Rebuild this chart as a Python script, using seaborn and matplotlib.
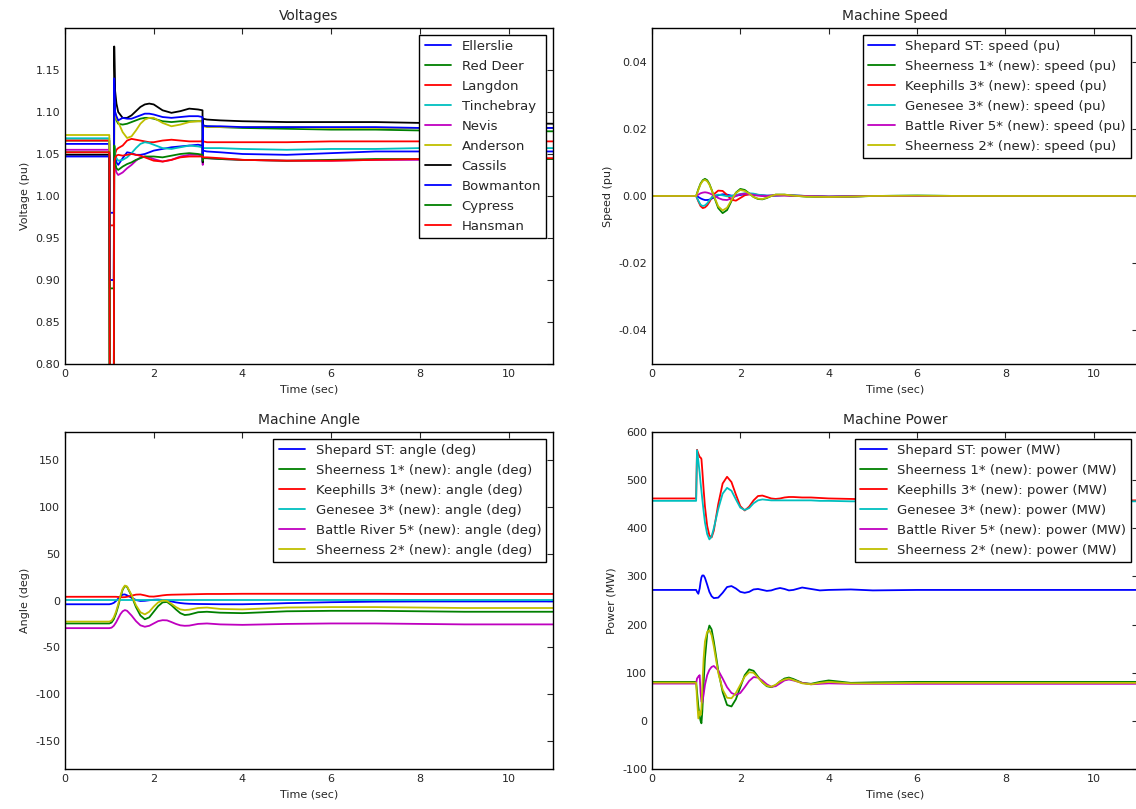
import matplotlib
matplotlib.use("Agg")
import matplotlib.pyplot as plt
import seaborn as sns

# ---------------- data ----------------
# bus voltages (pu)
t_volt = [0.0, 1.0, 1.01, 1.1, 1.11, 1.13, 1.16, 1.2, 1.3, 1.4, 1.5, 1.6, 1.7, 1.8, 1.9, 2.0,
          2.2, 2.4, 2.6, 2.8, 3.0, 3.1, 3.105, 3.11, 3.2, 3.5, 4.0, 5.0, 6.0, 7.0, 8.0, 9.0, 10.0, 11.0]
bus_names = ["Ellerslie", "Red Deer", "Langdon", "Tinchebray", "Nevis",
             "Anderson", "Cassils", "Bowmanton", "Cypress", "Hansman"]
v_ellerslie = [1.062, 1.062, 0.98, 0.98, 1.06, 1.05, 1.04, 1.037, 1.045, 1.052, 1.051, 1.049, 1.049, 1.050,
               1.052, 1.054, 1.056, 1.058, 1.059, 1.060, 1.061, 1.060, 1.040, 1.054, 1.053, 1.052, 1.050,
               1.049, 1.051, 1.053, 1.053, 1.053, 1.053, 1.053]
v_red_deer = [1.066, 1.066, 0.89, 0.89, 1.11, 1.10, 1.09, 1.086, 1.085, 1.086, 1.088, 1.090, 1.092, 1.093,
              1.093, 1.092, 1.089, 1.088, 1.089, 1.089, 1.089, 1.089, 1.05, 1.084, 1.083, 1.082, 1.081,
              1.080, 1.079, 1.079, 1.078, 1.078, 1.077, 1.077]
v_langdon = [1.066, 1.066, 0.965, 0.965, 1.04, 1.05, 1.055, 1.057, 1.060, 1.066, 1.068, 1.067, 1.066, 1.065,
             1.064, 1.064, 1.066, 1.067, 1.066, 1.065, 1.065, 1.065, 1.068, 1.065, 1.064, 1.064, 1.064,
             1.064, 1.065, 1.065, 1.065, 1.065, 1.065, 1.065]
v_tinchebray = [1.0687, 1.0687, 0.75, 0.75, 1.06, 1.05, 1.045, 1.042, 1.043, 1.046, 1.051, 1.057, 1.062, 1.064,
                1.063, 1.061, 1.057, 1.056, 1.058, 1.060, 1.059, 1.058, 1.058, 1.057, 1.057, 1.057, 1.056,
                1.055, 1.056, 1.056, 1.057, 1.057, 1.057, 1.057]
v_nevis = [1.055, 1.055, 0.90, 0.90, 1.05, 1.035, 1.028, 1.025, 1.028, 1.033, 1.037, 1.042, 1.046, 1.047,
           1.046, 1.044, 1.041, 1.043, 1.047, 1.049, 1.049, 1.048, 1.037, 1.045, 1.045, 1.044, 1.043,
           1.042, 1.042, 1.043, 1.043, 1.043, 1.044, 1.044]
v_anderson = [1.0726, 1.0726, 0.70, 0.70, 1.10, 1.095, 1.092, 1.088, 1.076, 1.069, 1.071, 1.078, 1.086, 1.091,
              1.093, 1.093, 1.087, 1.083, 1.085, 1.088, 1.089, 1.089, 1.089, 1.083, 1.082, 1.082, 1.082,
              1.082, 1.081, 1.081, 1.081, 1.081, 1.081, 1.081]
v_cassils = [1.049, 1.049, 0.70, 0.70, 1.178, 1.125, 1.11, 1.10, 1.093, 1.093, 1.096, 1.101, 1.106, 1.109,
             1.110, 1.109, 1.102, 1.099, 1.101, 1.104, 1.103, 1.102, 1.04, 1.092, 1.091, 1.090, 1.089,
             1.088, 1.088, 1.088, 1.087, 1.087, 1.087, 1.086]
v_bowmanton = [1.047, 1.047, 0.90, 0.90, 1.14, 1.10, 1.095, 1.090, 1.093, 1.092, 1.092, 1.094, 1.096, 1.098,
               1.098, 1.097, 1.094, 1.093, 1.094, 1.095, 1.095, 1.094, 1.045, 1.084, 1.083, 1.083, 1.082,
               1.082, 1.082, 1.082, 1.081, 1.081, 1.081, 1.081]
v_cypress = [1.052, 1.052, 0.60, 0.60, 1.06, 1.04, 1.033, 1.031, 1.035, 1.038, 1.040, 1.043, 1.045, 1.047,
             1.047, 1.047, 1.046, 1.048, 1.050, 1.051, 1.050, 1.049, 1.042, 1.045, 1.045, 1.044, 1.043,
             1.042, 1.043, 1.044, 1.044, 1.044, 1.044, 1.044]
v_hansman = [1.052, 1.052, 0.75, 0.75, 1.04, 1.045, 1.048, 1.049, 1.048, 1.049, 1.050, 1.049, 1.048, 1.046,
             1.044, 1.042, 1.041, 1.043, 1.046, 1.047, 1.047, 1.047, 1.047, 1.046, 1.046, 1.045, 1.043,
             1.042, 1.042, 1.043, 1.044, 1.044, 1.045, 1.045]

# machine quantities
mach_names = ["Shepard ST", "Sheerness 1* (new)", "Keephills 3* (new)",
              "Genesee 3* (new)", "Battle River 5* (new)", "Sheerness 2* (new)"]

t_mach = [0.0, 1.0, 1.05, 1.1, 1.15, 1.2, 1.25, 1.3, 1.35, 1.4, 1.5, 1.6, 1.7, 1.8, 1.9, 2.0, 2.1, 2.2,
          2.3, 2.4, 2.5, 2.6, 2.7, 2.8, 3.0, 3.2, 3.5, 4.0, 4.5, 5.0, 6.0, 7.0, 8.0, 9.0, 10.0, 11.0]
spd_shepard = [0, 0, -0.0003, -0.0007, -0.0010, -0.0012, -0.0012, -0.0011, -0.0008, -0.0005, 0.0002, 0.0005,
               0.0004, 0.0001, 0.0001, 0.0003, 0.0005, 0.0005, 0.0004, 0.0003, 0.0002, 0.0001, 0.0001,
               0.0001, 0.0002, 0.0001, 0.0, -0.0002, -0.0001, 0, 0, 0, 0, 0, 0, 0]
spd_sheerness1 = [0, 0, 0.0020, 0.0037, 0.0047, 0.0051, 0.0047, 0.0036, 0.0019, 0.0000, -0.0036, -0.0051,
                  -0.0042, -0.0015, 0.0010, 0.0021, 0.0018, 0.0008, -0.0003, -0.0009, -0.0010, -0.0006,
                  0.0000, 0.0004, 0.0004, 0.0001, -0.0002, -0.0003, -0.0002, 0, 0.0001, 0, 0, 0, 0, 0]
spd_keephills = [0, 0, -0.0016, -0.0030, -0.0036, -0.0034, -0.0028, -0.0018, -0.0006, 0.0005, 0.0016, 0.0015,
                 0.0003, -0.0011, -0.0014, -0.0006, 0.0002, 0.0005, 0.0005, 0.0003, 0.0001, 0.0000, 0.0001,
                 0.0002, 0.0002, 0.0001, 0.0, -0.0002, -0.0001, 0, 0, 0, 0, 0, 0, 0]
spd_genesee = [0, 0, -0.0014, -0.0026, -0.0030, -0.0028, -0.0022, -0.0013, -0.0005, 0.0001, 0.0004, 0.0002,
               -0.0001, 0.0000, 0.0003, 0.0006, 0.0008, 0.0008, 0.0007, 0.0004, 0.0002, 0.0001, 0.0001,
               0.0002, 0.0003, 0.0002, 0.0, -0.0002, -0.0001, 0, 0.0001, 0, 0, 0, 0, 0]
spd_battle = [0, 0, 0.0004, 0.0008, 0.0010, 0.0011, 0.0010, 0.0008, 0.0005, 0.0002, -0.0006, -0.0011,
              -0.0012, -0.0007, 0.0000, 0.0005, 0.0007, 0.0006, 0.0003, 0.0001, 0.0000, 0.0000, 0.0001,
              0.0002, 0.0002, 0.0001, 0.0, -0.0002, -0.0001, 0, 0, 0, 0, 0, 0, 0]
spd_sheerness2 = [0, 0, 0.0018, 0.0035, 0.0045, 0.0048, 0.0044, 0.0034, 0.0018, 0.0001, -0.0031, -0.0043,
                  -0.0035, -0.0012, 0.0009, 0.0018, 0.0015, 0.0007, -0.0003, -0.0008, -0.0009, -0.0005,
                  0.0000, 0.0004, 0.0004, 0.0001, -0.0002, -0.0003, -0.0002, 0, 0.0001, 0, 0, 0, 0, 0]

ang_shepard = [-4, -4, -3.5, -2.5, -0.5, 2, 4.5, 6.3, 6.5, 5.5, 3, 0.5, -0.5, -0.3, 0.3, 0.8, 1, 0.6,
               -0.2, -1, -2, -2.7, -3.2, -3.5, -3.7, -3.8, -4, -4, -3.5, -2.8, -1.8, -1.2, -1, -1, -1, -1]
ang_sheerness1 = [-24.5, -24.5, -23.5, -20, -14, -6, 3.5, 11.5, 15.5, 14.5, 5, -7, -16, -20, -18, -12, -6, -2,
                  -1.5, -5, -9.5, -13.5, -15.5, -15, -12.5, -12, -13, -13.5, -12.5, -11.5, -11, -11, -11.5,
                  -12, -12, -12]
ang_keephills = [4, 4, 4, 4, 4, 3.8, 3.6, 3.5, 3.6, 4, 5.2, 6.3, 6.5, 5.5, 4.3, 4.2, 4.8, 5.5, 6, 6.2, 6.3,
                 6.4, 6.5, 6.6, 6.8, 7, 7, 7.2, 7.2, 7.2, 7.2, 7.2, 7, 7, 7, 7]
ang_genesee = [0.5, 0.5, 0.5, 0.5, 0.5, 0.5, 0.5, 0.5, 0.5, 0.5, 0.5, 0.5, 0.5, 0.5, 0.5, 0.5, 0.5, 0.5,
               0.5, 0.5, 0.5, 0.5, 0.5, 0.5, 0.5, 0.5, 0.5, 0.5, 0.5, 0.5, 0.5, 0.5, 0.5, 0.5, 0.5, 0.5]
ang_battle = [-29.5, -29.5, -29, -27, -23.5, -19, -14.5, -11.5, -10.2, -11, -16, -22, -26.5, -28, -27, -24.5,
              -22, -21, -21.2, -23, -25, -26.5, -27, -26.8, -25, -24.5, -25.5, -26, -25.5, -25, -24.5,
              -24.5, -25, -25.5, -25.5, -25.5]
ang_sheerness2 = [-22.5, -22.5, -21.5, -18, -12, -4, 5, 12.5, 16, 15, 6, -5, -12.5, -14.8, -12, -6.5, -2, 0,
                  -0.5, -3.5, -7, -9.5, -10.2, -9.8, -8, -7.5, -9, -9.5, -8.5, -7.5, -7, -7, -7.5, -8, -8, -8]

t_pow = [0.0, 1.0, 1.02, 1.05, 1.08, 1.1, 1.12, 1.14, 1.17, 1.2, 1.25, 1.3, 1.35, 1.4, 1.5, 1.6, 1.7, 1.8,
         1.9, 2.0, 2.1, 2.2, 2.3, 2.4, 2.5, 2.6, 2.7, 2.8, 2.9, 3.0, 3.1, 3.2, 3.4, 3.6, 3.8, 4.0, 4.5, 5.0,
         6.0, 7.0, 8.0, 9.0, 10.0, 11.0]
pw_shepard = [272, 272, 268, 264, 275, 288, 298, 302, 302, 297, 283, 268, 259, 255, 256, 266, 278, 280, 275,
              268, 266, 268, 273, 274, 272, 270, 271, 274, 276, 274, 271, 272, 277, 274, 271, 272, 273, 271,
              272, 272, 272, 272, 272, 272]
pw_sheerness1 = [81, 81, 60, 30, 10, 0, -5, 20, 80, 130, 180, 198, 190, 165, 105, 60, 33, 30, 45, 70, 95, 107,
                 104, 92, 80, 72, 70, 74, 82, 88, 90, 87, 79, 77, 81, 84, 79, 80, 81, 81, 81, 81, 81, 81]
pw_keephills = [462, 462, 563, 555, 548, 547, 544, 520, 480, 445, 405, 385, 381, 395, 450, 493, 507, 496, 470,
                446, 437, 445, 458, 467, 468, 465, 462, 461, 462, 464, 465, 465, 464, 464, 463, 462, 461, 460,
                459, 458, 458, 458, 458, 458]
pw_genesee = [457, 457, 562, 540, 515, 495, 478, 460, 435, 412, 388, 377, 383, 400, 440, 472, 484, 478, 460,
              443, 438, 442, 452, 458, 460, 459, 458, 458, 458, 458, 458, 458, 458, 458, 457, 457, 456, 456,
              456, 456, 456, 456, 456, 456]
pw_battle = [77.5, 77.5, 88, 92, 95, 60, 40, 38, 55, 75, 95, 106, 112, 114, 105, 88, 70, 58, 54, 58, 70, 83,
             91, 90, 84, 76, 71, 72, 78, 84, 86, 84, 79, 76, 77, 78, 77, 77, 77, 77, 77, 77, 77, 77]
pw_sheerness2 = [79.5, 79.5, 45, 5, 20, 12, 25, 70, 130, 165, 185, 188, 178, 155, 100, 65, 48, 47, 58, 75, 92,
                 101, 100, 90, 80, 73, 71, 75, 82, 86, 88, 85, 78, 76, 79, 81, 78, 78, 79, 79, 79, 79, 79, 79]

# classic matplotlib "bgrcmyk" colours
BLUE, GREEN, RED, CYAN = "#0000ff", "#008000", "#ff0000", "#00bfbf"
MAGENTA, YELLOW, BLACK = "#bf00bf", "#bfbf00", "#000000"
bus_colors = [BLUE, GREEN, RED, CYAN, MAGENTA, YELLOW, BLACK, BLUE, GREEN, RED]
mach_colors = [BLUE, GREEN, RED, CYAN, MAGENTA, YELLOW]


def draw_panel(ax, t, series, names, colors, suffix, title, ylabel, ylim, yticks, fmt=None):
    for vals, name, col in zip(series, names, colors):
        sns.lineplot(x=t, y=vals, color=col, linewidth=1.3, label=name + suffix, ax=ax)
    ax.set_xlim(0, 11)
    ax.set_ylim(*ylim)
    ax.set_xticks([0, 2, 4, 6, 8, 10])
    ax.set_yticks(yticks)
    if fmt:
        ax.yaxis.set_major_formatter(plt.FormatStrFormatter(fmt))
    ax.set_title(title, fontsize=10)
    ax.set_xlabel("Time (sec)", fontsize=8)
    ax.set_ylabel(ylabel, fontsize=8)
    ax.tick_params(labelsize=8, direction="in", top=True, right=True, length=4, width=0.8)
    for sp in ax.spines.values():
        sp.set_color("black")
        sp.set_linewidth(1.0)
    ax.legend(loc="upper right", fontsize=9.5, frameon=True, fancybox=False,
              edgecolor="black", framealpha=1, borderaxespad=0.5, handlelength=2.0,
              labelspacing=0.53)


sns.set_theme(style="white", rc={"axes.edgecolor": "black"})
plt.rcParams["font.family"] = ["DejaVu Sans"]
plt.rcParams["axes.unicode_minus"] = False

fig = plt.figure(figsize=(11.36, 8.09), dpi=100)
ax_v = fig.add_axes([0.0572, 0.5501, 0.4296, 0.4153])
ax_s = fig.add_axes([0.5739, 0.5501, 0.4278, 0.4153])
ax_a = fig.add_axes([0.0572, 0.0494, 0.4296, 0.4166])
ax_p = fig.add_axes([0.5739, 0.0494, 0.4278, 0.4166])

draw_panel(ax_v, t_volt,
           [v_ellerslie, v_red_deer, v_langdon, v_tinchebray, v_nevis,
            v_anderson, v_cassils, v_bowmanton, v_cypress, v_hansman],
           bus_names, bus_colors, "", "Voltages", "Voltage (pu)",
           (0.8, 1.2), [0.80, 0.85, 0.90, 0.95, 1.00, 1.05, 1.10, 1.15], "%.2f")
draw_panel(ax_s, t_mach,
           [spd_shepard, spd_sheerness1, spd_keephills, spd_genesee, spd_battle, spd_sheerness2],
           mach_names, mach_colors, ": speed (pu)", "Machine Speed", "Speed (pu)",
           (-0.05, 0.05), [-0.04, -0.02, 0.0, 0.02, 0.04], "%.2f")
draw_panel(ax_a, t_mach,
           [ang_shepard, ang_sheerness1, ang_keephills, ang_genesee, ang_battle, ang_sheerness2],
           mach_names, mach_colors, ": angle (deg)", "Machine Angle", "Angle (deg)",
           (-180, 180), [-150, -100, -50, 0, 50, 100, 150])
draw_panel(ax_p, t_pow,
           [pw_shepard, pw_sheerness1, pw_keephills, pw_genesee, pw_battle, pw_sheerness2],
           mach_names, mach_colors, ": power (MW)", "Machine Power", "Power (MW)",
           (-100, 600), [-100, 0, 100, 200, 300, 400, 500, 600])

fig.savefig("out.png", dpi=100)
